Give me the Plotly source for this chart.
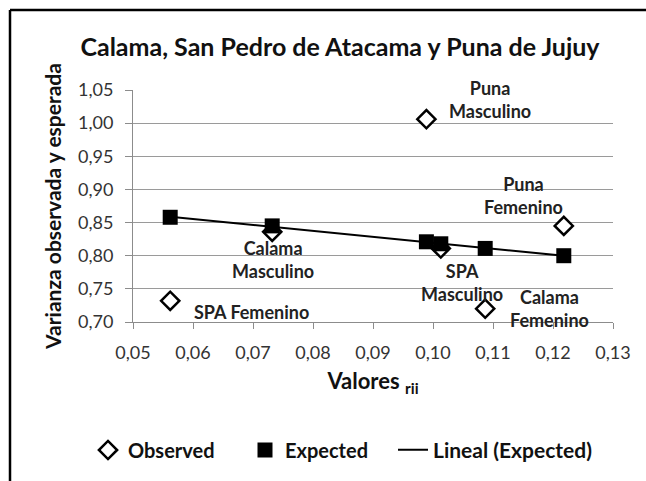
import numpy as np
import plotly.graph_objects as go

# ---- data ----
point_labels = ["SPA Femenino", "Calama<br>Masculino", "Puna<br>Masculino",
                "SPA<br>Masculino", "Calama<br>Femenino", "Puna<br>Femenino"]
rii_values = [0.0562, 0.0732, 0.0989, 0.1013, 0.1087, 0.1218]
observed = [0.732, 0.836, 1.006, 0.811, 0.720, 0.845]
expected = [0.858, 0.845, 0.821, 0.818, 0.811, 0.800]
x_ticks = [0.05, 0.06, 0.07, 0.08, 0.09, 0.10, 0.11, 0.12, 0.13]
y_ticks = [0.70, 0.75, 0.80, 0.85, 0.90, 0.95, 1.00, 1.05]

# label offsets (px) relative to each observed point
label_dx = [81, 1, 64, 21, 64, -40]
label_dy = [11, 28, -20, 34, 0, -30]

FONT = "Lato, Calibri, sans-serif"

# plot area in pixels
L, R, T, B = 133, 613, 90, 322
W, H = 646, 481
PW, PH = R - L, B - T

# linear trend of expected values
coef = np.polyfit(rii_values, expected, 1)
trend_x = [min(rii_values), max(rii_values)]
trend_y = [float(np.polyval(coef, v)) for v in trend_x]

fig = go.Figure()
fig.add_trace(go.Scatter(
    x=rii_values, y=observed, mode="markers", name="Observed", legend="legend",
    marker=dict(symbol="diamond", size=14, color="white",
                line=dict(color="black", width=2.5)),
))
fig.add_trace(go.Scatter(
    x=rii_values, y=expected, mode="markers", name="Expected", legend="legend",
    marker=dict(symbol="square", size=15, color="black",
                line=dict(color="black", width=0)),
))
fig.add_trace(go.Scatter(
    x=trend_x, y=trend_y, mode="lines", name="Lineal (Expected)", legend="legend2",
    line=dict(color="black", width=2),
))

for xv, yv, txt, dx, dy in zip(rii_values, observed, point_labels, label_dx, label_dy):
    fig.add_annotation(x=xv, y=yv, xref="x", yref="y", text=txt, showarrow=False,
                       xshift=dx, yshift=-dy, align="center",
                       font=dict(family=FONT, size=18, color="#222222", weight="bold"))

legend_font = dict(family=FONT, size=20, color="#111111", weight="bold")

fig.update_layout(
    width=W, height=H,
    margin=dict(l=L, r=W - R, t=T, b=H - B),
    paper_bgcolor="white", plot_bgcolor="white",
    font=dict(family=FONT, color="#222222"),
    title=dict(text="Calama, San Pedro de Atacama y Puna de Jujuy",
               x=340 / W, xref="container", xanchor="center",
               y=1 - 47 / H, yref="container", yanchor="middle",
               font=dict(family=FONT, size=25, color="#111111", weight="bold")),
    showlegend=True,
    legend=dict(orientation="h", xref="container", yref="container",
                x=88 / W, xanchor="left", y=1 - 450 / H, yanchor="middle",
                font=legend_font, bgcolor="rgba(0,0,0,0)",
                entrywidth=112, entrywidthmode="pixels"),
    legend2=dict(orientation="h", xref="container", yref="container",
                 x=393 / W, xanchor="left", y=1 - 450 / H, yanchor="middle",
                 font=dict(family=FONT, size=21, color="#111111", weight="bold"),
                 bgcolor="rgba(0,0,0,0)"),
    xaxis=dict(range=[0.05, 0.13], tickvals=x_ticks,
               ticktext=[f"{v:.2f}".replace(".", ",") for v in x_ticks],
               showgrid=False, zeroline=False, showline=True,
               linecolor="#8c8c8c", linewidth=1,
               ticks="outside", ticklen=6, tickcolor="#8c8c8c",
               tickfont=dict(family=FONT, size=18, color="#333333"),
               ticklabelstandoff=8,
               title=dict(text="Valores <sub>rii</sub>", standoff=12,
                          font=dict(family=FONT, size=22, color="#111111", weight="bold"))),
    yaxis=dict(range=[0.70, 1.05], tickvals=y_ticks,
               ticktext=[f"{v:.2f}".replace(".", ",") for v in y_ticks],
               showgrid=True, gridcolor="#9a9a9a", gridwidth=1,
               zeroline=False, showline=True,
               linecolor="#8c8c8c", linewidth=1,
               ticks="outside", ticklen=7, tickcolor="#8c8c8c",
               tickfont=dict(family=FONT, size=18, color="#333333"),
               ticklabelstandoff=8,
               title=dict(text="Varianza observada y esperada", standoff=10,
                          font=dict(family=FONT, size=21, color="#111111", weight="bold"))),
)

# outer chart frame (only its top and left edges fall inside the image)
fx = (10 - L) / PW
fy = (B - 10) / PH
fig.add_shape(type="line", xref="paper", yref="paper", layer="above",
              x0=fx, x1=fx, y0=fy, y1=(B - H) / PH,
              line=dict(color="black", width=2.5))
fig.add_shape(type="line", xref="paper", yref="paper", layer="above",
              x0=fx, x1=(W - L) / PW, y0=fy, y1=fy,
              line=dict(color="black", width=2.5))

fig.write_html("out.html", config={"displayModeBar": False},
               post_script="document.body.style.margin='0';")
